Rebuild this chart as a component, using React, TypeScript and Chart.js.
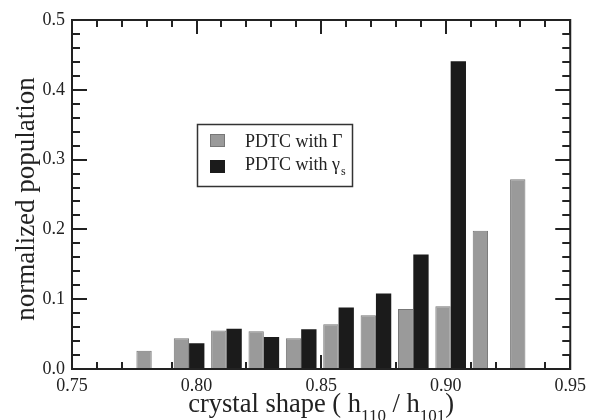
import { useEffect, useRef } from 'react';
import { Chart, registerables } from 'chart.js';

Chart.register(...registerables);

// bin centres of crystal shape (h110 / h101)
const binCenters = [0.782, 0.797, 0.812, 0.827, 0.842, 0.857, 0.872, 0.887, 0.902, 0.917, 0.932];
// PDTC with Γ
const gammaValues = [0.026, 0.044, 0.055, 0.054, 0.044, 0.064, 0.077, 0.086, 0.090, 0.198, 0.272];
// PDTC with γs
const gammaSValues: (number | null)[] = [null, 0.037, 0.0575, 0.046, 0.057, 0.088, 0.108, 0.164, 0.441, null, null];

const xMajorTicks = [0.75, 0.8, 0.85, 0.9, 0.95];
const yMajorTicks = [0, 0.1, 0.2, 0.3, 0.4, 0.5];

const SERIF = '"Liberation Serif", "Times New Roman", serif';
const INK = '#222';
const GRAY = '#9a9a9a';
const BLACK = '#1b1b1b';

const frameTicksPlugin = {
  id: 'frameTicks',
  beforeDatasetsDraw(chart: any) {
    const { ctx, chartArea: a, scales } = chart;
    const xs = scales.x;
    const ys = scales.y;
    ctx.save();
    ctx.strokeStyle = INK;
    ctx.lineWidth = 2;
    ctx.beginPath();
    for (let i = 0; i <= 20; i++) {
      const v = 0.75 + i * 0.01;
      const px = Math.round(xs.getPixelForValue(v));
      const len = i % 5 === 0 ? 14 : 7;
      ctx.moveTo(px, a.bottom);
      ctx.lineTo(px, a.bottom - len);
      ctx.moveTo(px, a.top);
      ctx.lineTo(px, a.top + len);
    }
    for (let i = 0; i <= 25; i++) {
      const v = i * 0.02;
      const py = Math.round(ys.getPixelForValue(v));
      const len = i % 5 === 0 ? 15 : 8;
      ctx.moveTo(a.left, py);
      ctx.lineTo(a.left + len, py);
      ctx.moveTo(a.right, py);
      ctx.lineTo(a.right - len, py);
    }
    ctx.stroke();
    ctx.restore();
  },
  afterDatasetsDraw(chart: any) {
    const { ctx, chartArea: a } = chart;
    ctx.save();
    ctx.strokeStyle = INK;
    ctx.lineWidth = 2;
    ctx.strokeRect(a.left, a.top, a.right - a.left, a.bottom - a.top);
    ctx.restore();
  },
  afterDraw(chart: any) {
    const { ctx, chartArea: a } = chart;
    ctx.save();
    ctx.fillStyle = INK;
    ctx.font = `27px ${SERIF}`;
    ctx.textAlign = 'center';
    ctx.textBaseline = 'alphabetic';
    ctx.save();
    ctx.translate(34, 199);
    ctx.rotate(-Math.PI / 2);
    ctx.fillText('normalized population', 0, 0);
    ctx.restore();

    const big = `26.5px ${SERIF}`;
    const small = `17px ${SERIF}`;
    const parts: [string, boolean][] = [
      ['crystal shape ( h', false],
      ['110', true],
      [' / h', false],
      ['101', true],
      [')', false],
    ];
    let total = 0;
    for (const [t, sub] of parts) {
      ctx.font = sub ? small : big;
      total += ctx.measureText(t).width;
    }
    let x = (a.left + a.right) / 2 - total / 2;
    const base = 412;
    ctx.textAlign = 'left';
    for (const [t, sub] of parts) {
      ctx.font = sub ? small : big;
      ctx.fillText(t, x, sub ? base + 9 : base);
      x += ctx.measureText(t).width;
    }

    const lx = 197.5;
    const ly = 124.5;
    ctx.fillStyle = '#fff';
    ctx.fillRect(lx, ly, 155, 62);
    ctx.strokeStyle = '#333';
    ctx.lineWidth = 1.5;
    ctx.strokeRect(lx, ly, 155, 62);
    ctx.fillStyle = GRAY;
    ctx.fillRect(210, 134, 15, 13);
    ctx.strokeStyle = '#777';
    ctx.lineWidth = 1;
    ctx.strokeRect(210.5, 134.5, 14, 12);
    ctx.fillStyle = BLACK;
    ctx.fillRect(210, 160, 15, 13);
    ctx.fillStyle = INK;
    ctx.font = `18px ${SERIF}`;
    ctx.fillText('PDTC with \u0393', 245, 147);
    ctx.fillText('PDTC with \u03b3', 245, 170);
    const w = ctx.measureText('PDTC with \u03b3').width;
    ctx.font = `12px ${SERIF}`;
    ctx.fillText('s', 245 + w + 1, 175);
    ctx.restore();
  },
};

export default function App() {
  const ref = useRef<HTMLCanvasElement | null>(null);
  useEffect(() => {
    if (!ref.current) return;
    const chart = new Chart(ref.current, {
      type: 'bar',
      data: {
        datasets: [
          {
            label: 'PDTC with \u0393',
            data: binCenters.map((x, i) => ({ x, y: gammaValues[i] })) as any,
            backgroundColor: GRAY,
            borderColor: '#777',
            borderWidth: 1,
            categoryPercentage: 0.82,
            barPercentage: 1,
          },
          {
            label: 'PDTC with \u03b3s',
            data: binCenters.map((x, i) => ({ x, y: gammaSValues[i] })) as any,
            backgroundColor: BLACK,
            borderColor: '#111',
            borderWidth: 0,
            categoryPercentage: 0.82,
            barPercentage: 1,
          },
        ],
      },
      options: {
        responsive: false,
        animation: false,
        layout: { padding: { top: 20, right: 18, left: 0, bottom: 0 } },
        plugins: { legend: { display: false }, tooltip: { enabled: false } },
        scales: {
          x: {
            type: 'linear',
            offset: false,
            min: 0.75,
            max: 0.95,
            grid: { display: false, drawTicks: false },
            border: { display: false },
            afterBuildTicks: (s: any) => {
              s.ticks = xMajorTicks.map((v) => ({ value: v }));
            },
            afterFit: (s: any) => {
              s.height = 51;
            },
            ticks: {
              padding: 6,
              color: INK,
              font: { family: SERIF, size: 18 },
              maxRotation: 0,
              autoSkip: false,
              callback: (v: any) => Number(v).toFixed(2),
            },
          },
          y: {
            min: 0,
            max: 0.5,
            grid: { display: false, drawTicks: false },
            border: { display: false },
            afterBuildTicks: (s: any) => {
              s.ticks = yMajorTicks.map((v) => ({ value: v }));
            },
            afterFit: (s: any) => {
              s.width = 72;
            },
            ticks: {
              padding: 7,
              color: INK,
              font: { family: SERIF, size: 18 },
              callback: (v: any) => Number(v).toFixed(1),
            },
          },
        },
      },
      plugins: [frameTicksPlugin],
    });
    return () => chart.destroy();
  }, []);
  return (
    <div style={{ position: 'fixed', left: 0, top: 0, width: 592, height: 420, background: '#fff' }}>
      <canvas ref={ref} width={592} height={420} style={{ display: 'block' }} />
    </div>
  );
}
